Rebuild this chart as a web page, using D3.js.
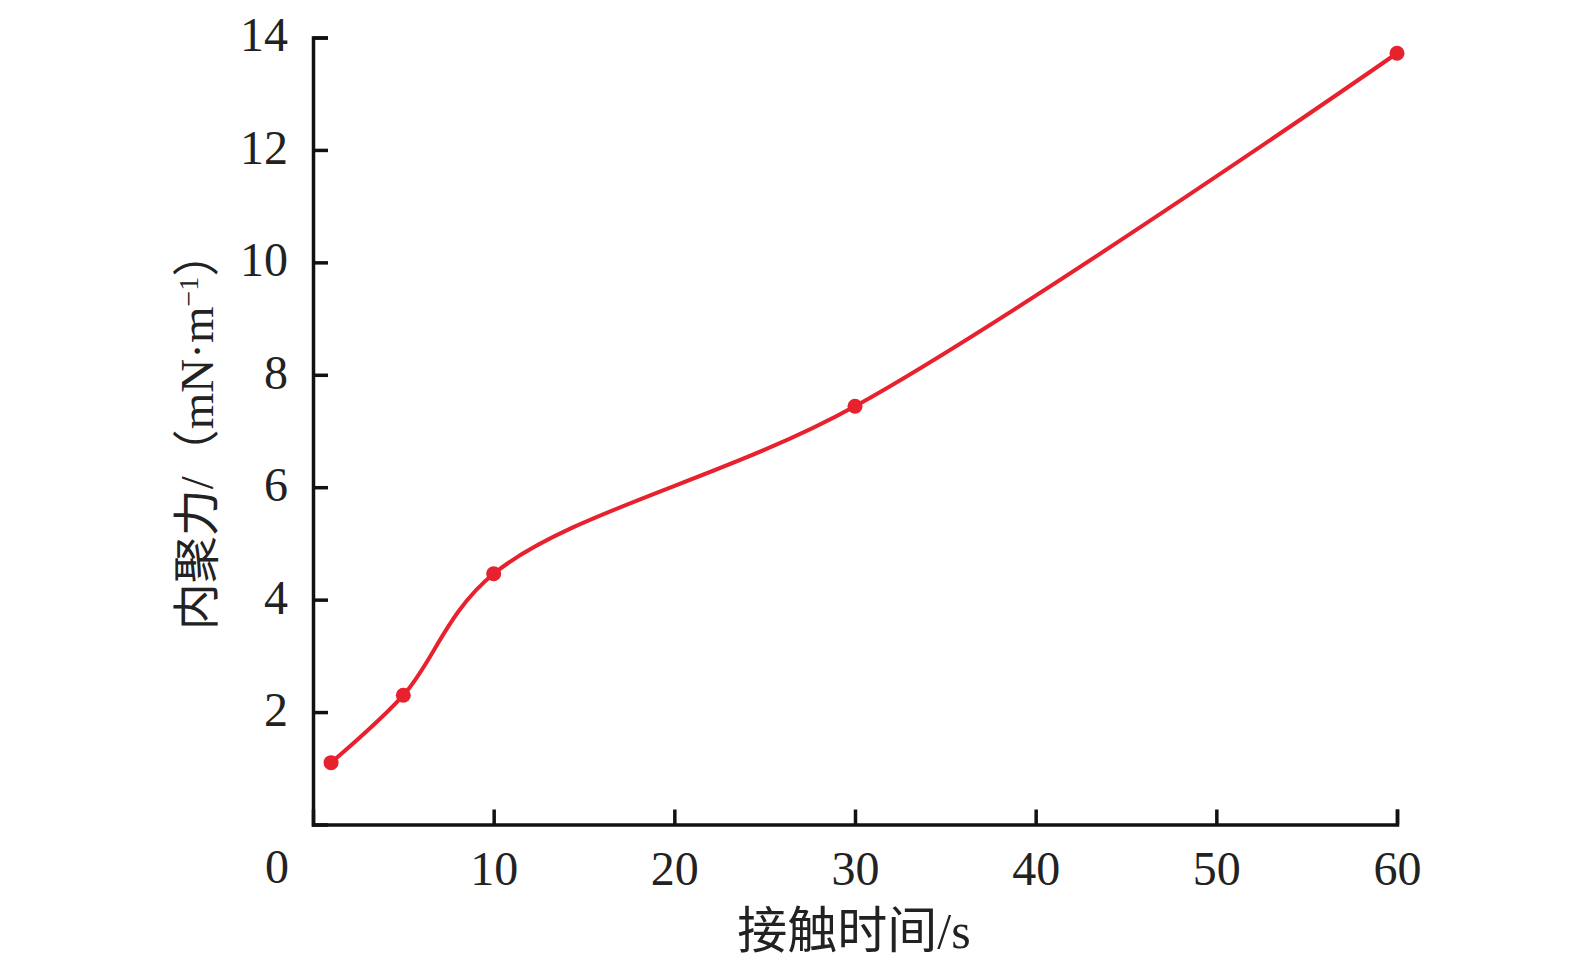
<!DOCTYPE html>
<html><head><meta charset="utf-8">
<script src="https://cdn.jsdelivr.net/npm/d3@7"></script>
<style>body{margin:0;background:#fff}svg{display:block}</style>
</head><body>
<svg id="c" width="1575" height="974"></svg>
<script>
const times = [1, 5, 10, 30, 60];
const cohesion = [1.1, 2.3, 4.46, 7.44, 13.72];
const xTicks = [10, 20, 30, 40, 50, 60];
const yTicks = [2, 4, 6, 8, 10, 12, 14];
const xTitle = "接触时间/s";
const yTitleMain = "内聚力/（mN·m";
const yTitleSup = "−1";
const yTitleEnd = "）";

const svg = d3.select("#c");
const font = "'Liberation Serif','Noto Sans CJK SC',serif";
const x = d3.scaleLinear().domain([0, 60]).range([313, 1397]);
const y = d3.scaleLinear().domain([0, 14]).range([824.5, 37.5]);
const red = "#e8212e";

const gx = svg.append("g").attr("transform", `translate(0,${y(0)})`)
  .call(d3.axisBottom(x).tickValues(xTicks).tickSize(-15).tickPadding(26).tickFormat(d3.format("d")));
const gy = svg.append("g").attr("transform", `translate(${x(0)},0)`)
  .call(d3.axisLeft(y).tickValues(yTicks).tickSize(-15).tickPadding(25).tickFormat(d3.format("d")));
[gx, gy].forEach(g => {
  g.select(".domain").attr("stroke", "#111").attr("stroke-width", 3.5);
  g.selectAll(".tick line").attr("stroke", "#111").attr("stroke-width", 3.5);
  g.selectAll(".tick text").attr("fill", "#222").style("font-family", font).style("font-size", "48px");
});
gx.selectAll(".tick text").attr("dy", "0.71em");
gy.selectAll(".tick text").attr("dy", "0.28em");

// shared origin label
svg.append("text").attr("x", 277).attr("y", 866).attr("text-anchor", "middle").attr("dy", "0.35em")
  .style("font-family", font).style("font-size", "48px").attr("fill", "#222").text("0");

const pts = times.map((t, i) => [t, cohesion[i]]);
svg.append("path").datum(pts)
  .attr("d", d3.line().x(d => x(d[0])).y(d => y(d[1])).curve(d3.curveCatmullRom.alpha(0.5)))
  .attr("fill", "none").attr("stroke", red).attr("stroke-width", 4);
svg.selectAll("circle.pt").data(pts).join("circle").attr("class", "pt")
  .attr("cx", d => x(d[0])).attr("cy", d => y(d[1])).attr("r", 7.5).attr("fill", red);

svg.append("text").attr("x", 854).attr("y", 930).attr("text-anchor", "middle").attr("dy", "0.35em")
  .style("font-family", font).style("font-size", "50px").attr("fill", "#222").text(xTitle);

const yt = svg.append("text").attr("transform", "translate(197,430) rotate(-90)")
  .attr("text-anchor", "middle").attr("dy", "0.35em")
  .style("font-family", font).style("font-size", "47px").attr("fill", "#222");
yt.append("tspan").text(yTitleMain);
yt.append("tspan").attr("baseline-shift", "super").style("font-size", "28px").text(yTitleSup);
yt.append("tspan").text(yTitleEnd);
</script>
</body></html>
